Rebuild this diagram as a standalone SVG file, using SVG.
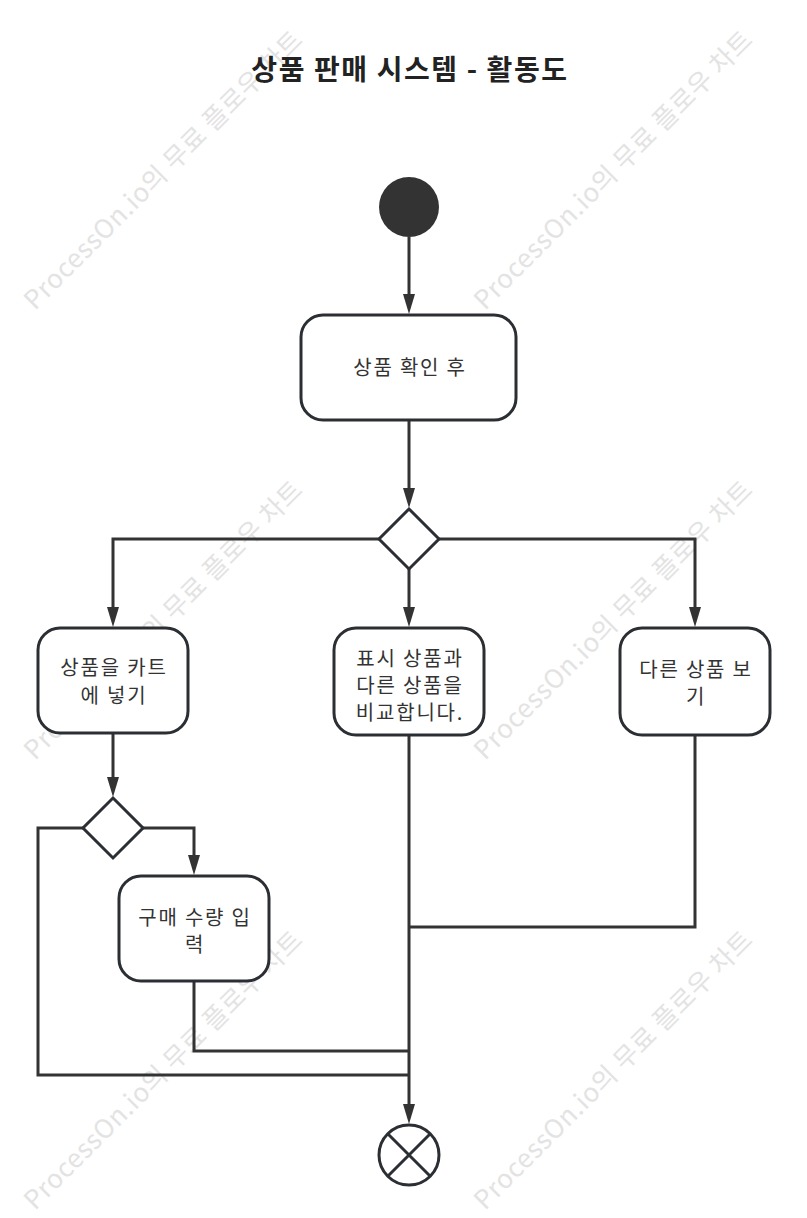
<svg xmlns="http://www.w3.org/2000/svg" width="807" height="1218" viewBox="0 0 807 1218">
<defs>
<style>
.wm{font-family:"Noto Sans CJK KR","Noto Sans",sans-serif;font-size:26px;letter-spacing:0.6px;fill:#e3e3e3}
.title{font-family:"Noto Sans CJK KR",sans-serif;font-size:28px;font-weight:bold;fill:#222;text-anchor:middle;letter-spacing:1.6px}
.lbl{font-family:"Noto Sans CJK KR",sans-serif;font-size:20px;fill:#333;text-anchor:middle;letter-spacing:1.8px}
.box{fill:#fff;stroke:#2b2f33;stroke-width:3}
.dia{fill:#fff;stroke:#2b2f33;stroke-width:3;stroke-linejoin:miter}
.ln{fill:none;stroke:#333;stroke-width:3}
.ah{fill:#333}
</style>
</defs>
<rect width="807" height="1218" fill="#fff"/>
<g id="watermarks">
<text class="wm" transform="translate(35,311) rotate(-45)">ProcessOn.io의 무료 플로우 차트</text>
<text class="wm" transform="translate(485,311) rotate(-45)">ProcessOn.io의 무료 플로우 차트</text>
<text class="wm" transform="translate(35,761) rotate(-45)">ProcessOn.io의 무료 플로우 차트</text>
<text class="wm" transform="translate(485,761) rotate(-45)">ProcessOn.io의 무료 플로우 차트</text>
<text class="wm" transform="translate(35,1211) rotate(-45)">ProcessOn.io의 무료 플로우 차트</text>
<text class="wm" transform="translate(485,1211) rotate(-45)">ProcessOn.io의 무료 플로우 차트</text>
</g>
<text class="title" x="410" y="80">상품 판매 시스템 - 활동도</text>
<g id="connectors">
<line class="ln" x1="409" y1="237" x2="409" y2="300"/>
<path class="ah" d="M403,294 L415,294 L409,314 Z"/>
<line class="ln" x1="409" y1="420" x2="409" y2="494"/>
<path class="ah" d="M403,488 L415,488 L409,508 Z"/>
<path class="ln" d="M379,539 H113 V613"/>
<path class="ah" d="M107,607 L119,607 L113,627 Z"/>
<line class="ln" x1="409" y1="569" x2="409" y2="613"/>
<path class="ah" d="M403,607 L415,607 L409,627 Z"/>
<path class="ln" d="M439,539 H695 V613"/>
<path class="ah" d="M689,607 L701,607 L695,627 Z"/>
<line class="ln" x1="113" y1="733" x2="113" y2="783"/>
<path class="ah" d="M107,777 L119,777 L113,797 Z"/>
<path class="ln" d="M143,828 H194 V861"/>
<path class="ah" d="M188,855 L200,855 L194,875 Z"/>
<path class="ln" d="M83,828 H38 V1075 H409"/>
<path class="ln" d="M194,981 V1051 H409"/>
<path class="ln" d="M695,735 V927 H409"/>
<line class="ln" x1="409" y1="735" x2="409" y2="1110"/>
<path class="ah" d="M403,1104 L415,1104 L409,1124 Z"/>
</g>
<g id="start"><circle cx="409" cy="207" r="30" fill="#333"/></g>
<g id="n1"><rect class="box" x="301" y="315" width="215" height="105" rx="22"/><text class="lbl" x="410" y="375">상품 확인 후</text></g>
<g id="d1"><path class="dia" d="M409,509 L439,539 L409,569 L379,539 Z"/></g>
<g id="n2"><rect class="box" x="38" y="628" width="150" height="105" rx="22"/><text class="lbl" x="114" y="675">상품을 카트</text><text class="lbl" x="114" y="703">에 넣기</text></g>
<g id="n3"><rect class="box" x="334" y="628" width="150" height="107" rx="22"/><text class="lbl" x="410" y="666">표시 상품과</text><text class="lbl" x="410" y="693">다른 상품을</text><text class="lbl" x="410" y="720">비교합니다.</text></g>
<g id="n4"><rect class="box" x="620" y="628" width="150" height="107" rx="22"/><text class="lbl" x="696" y="677">다른 상품 보</text><text class="lbl" x="696" y="704">기</text></g>
<g id="d2"><path class="dia" d="M113,798 L143,828 L113,858 L83,828 Z"/></g>
<g id="n5"><rect class="box" x="119" y="876" width="150" height="105" rx="22"/><text class="lbl" x="195" y="925">구매 수량 입</text><text class="lbl" x="195" y="952">력</text></g>
<g id="end"><circle cx="409" cy="1155" r="30" fill="#fff" stroke="#2b2f33" stroke-width="3"/><path d="M388,1134 L430,1176 M430,1134 L388,1176" stroke="#2b2f33" stroke-width="3"/></g>
</svg>
